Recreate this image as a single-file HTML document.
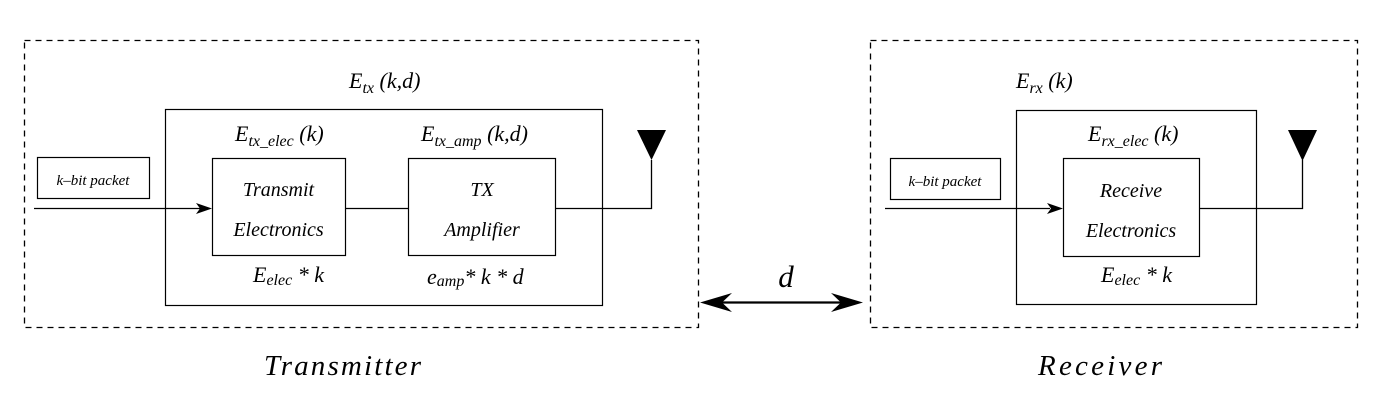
<!DOCTYPE html>
<html><head><meta charset="utf-8"><style>html,body{margin:0;padding:0;background:#fff}svg{display:block}</style></head>
<body>
<svg width="1375" height="402" viewBox="0 0 1375 402" xmlns="http://www.w3.org/2000/svg" font-family="Liberation Serif, serif" font-style="italic" fill="#000">
<g fill="none" stroke="#000">
<rect x="24.5" y="40.5" width="674" height="287" stroke-width="1.3" stroke-dasharray="6,5"/>
<rect x="870.5" y="40.5" width="487" height="287" stroke-width="1.3" stroke-dasharray="6,5"/>
<rect x="165.5" y="109.5" width="437" height="196" stroke-width="1.2"/>
<rect x="212.5" y="158.5" width="133" height="97" stroke-width="1.2"/>
<rect x="408.5" y="158.5" width="147" height="97" stroke-width="1.2"/>
<rect x="37.5" y="157.5" width="112" height="41" stroke-width="1.2"/>
<rect x="1016.5" y="110.5" width="240" height="194" stroke-width="1.2"/>
<rect x="1063.5" y="158.5" width="136" height="98" stroke-width="1.2"/>
<rect x="890.5" y="158.5" width="110" height="41" stroke-width="1.2"/>
<path d="M34 208.5H200M345 208.5H408M555 208.5H651.5V160" stroke-width="1.3"/>
<path d="M885 208.5H1050M1199 208.5H1302.5V160" stroke-width="1.3"/>
<path d="M715 302.5H848" stroke-width="2.2"/>
</g>
<polygon points="212,208.5 196,203 200,208.5 196,214"/>
<polygon points="1063,208.5 1047,203 1051,208.5 1047,214"/>
<polygon points="637,130 666,130 651.5,160"/>
<polygon points="1288,130 1317,130 1302.5,161"/>
<polygon points="700,302.5 732,293 722,302.5 732,312"/>
<polygon points="863,302.5 831,293 841,302.5 831,312"/>
<text x="349" y="88" font-size="22">E<tspan font-size="16" dy="5">tx</tspan><tspan dy="-5"> (k,d)</tspan></text>
<text x="235" y="141" font-size="22">E<tspan font-size="16" dy="5">tx_elec</tspan><tspan dy="-5"> (k)</tspan></text>
<text x="421" y="141" font-size="22">E<tspan font-size="16" dy="5">tx_amp</tspan><tspan dy="-5"> (k,d)</tspan></text>
<text x="278.5" y="196" font-size="20" text-anchor="middle">Transmit</text>
<text x="278.5" y="236" font-size="20" text-anchor="middle">Electronics</text>
<text x="482" y="196" font-size="20" text-anchor="middle">TX</text>
<text x="482" y="236" font-size="20" text-anchor="middle">Amplifier</text>
<text x="253" y="282" font-size="22">E<tspan font-size="16" dy="3">elec</tspan><tspan dy="-3"> * k</tspan></text>
<text x="427" y="284" font-size="22">e<tspan font-size="16" dy="2">amp</tspan><tspan dy="-2">* k * d</tspan></text>
<text x="93" y="185" font-size="15" text-anchor="middle">k–bit packet</text>
<text x="1016" y="88" font-size="22">E<tspan font-size="16" dy="5">rx</tspan><tspan dy="-5"> (k)</tspan></text>
<text x="1088" y="141" font-size="22">E<tspan font-size="16" dy="5">rx_elec</tspan><tspan dy="-5"> (k)</tspan></text>
<text x="1131" y="197" font-size="20" text-anchor="middle">Receive</text>
<text x="1131" y="237" font-size="20" text-anchor="middle">Electronics</text>
<text x="1101" y="282" font-size="22">E<tspan font-size="16" dy="3">elec</tspan><tspan dy="-3"> * k</tspan></text>
<text x="945" y="186" font-size="15" text-anchor="middle">k–bit packet</text>
<text x="786" y="287" font-size="31" text-anchor="middle">d</text>
<text x="264" y="375" font-size="29" textLength="157" lengthAdjust="spacing">Transmitter</text>
<text x="1038" y="375" font-size="29" textLength="124" lengthAdjust="spacing">Receiver</text>
</svg>
</body></html>
